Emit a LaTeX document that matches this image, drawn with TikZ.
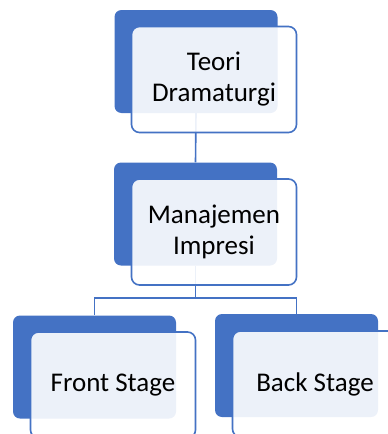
\documentclass[tikz,border=0pt]{standalone}
\usepackage{fontspec}
\setmainfont{Carlito}
\definecolor{accent}{HTML}{4472C4}
\begin{document}
\begin{tikzpicture}[x=1pt,y=-1pt,
  backbox/.style={draw=none,fill=accent,rounded corners=7pt,minimum width=163pt,minimum height=103pt,inner sep=0pt},
  frontbox/.style={draw=accent,line width=1.6pt,fill=white,fill opacity=0.9,text opacity=1,rounded corners=8pt,minimum width=165pt,minimum height=106pt,inner sep=0pt,align=center,font=\fontsize{27}{31}\selectfont},
  link/.style={draw=accent,line width=1.6pt}]
\useasboundingbox (0,0) rectangle (388,434);
\clip (0,0) rectangle (388,434);
\node[backbox] (b1) at (196,61.5) {};
\node[backbox] (b2) at (195.5,214) {};
\node[backbox] (b3) at (94.5,367) {};
\node[backbox] (b4) at (296.5,365.5) {};
\coordinate (j) at (195.5,298);
\draw[link] (b1.south) -- (b2.north);
\draw[link] (b2.south) -- (j);
\draw[link] (j) -| (b3.north);
\draw[link] (j) -| (b4.north);
\node[frontbox] (f1) at (214,79.5) {Teori\\Dramaturgi};
\node[frontbox] (f2) at (214,232) {Manajemen\\Impresi};
\node[frontbox] (f3) at (113,385) {Front Stage};
\node[frontbox] (f4) at (315,384) {Back Stage};
\end{tikzpicture}
\end{document}
